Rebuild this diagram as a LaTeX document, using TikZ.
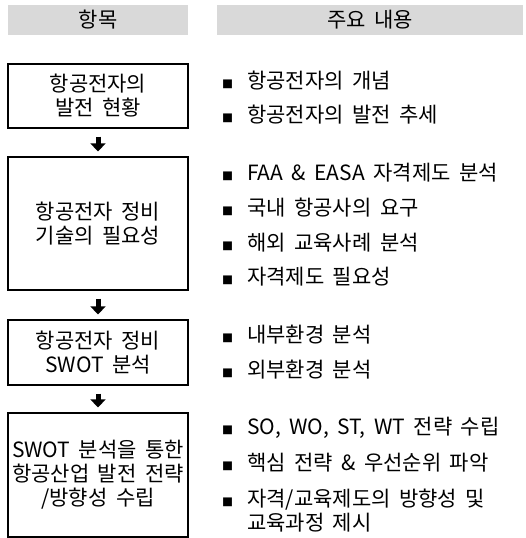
\documentclass[tikz,border=0pt]{standalone}
\usepackage{fontspec}
\setmainfont{Noto Sans CJK KR}[WordSpace=1.8]
\usepackage{xcolor}
\usetikzlibrary{arrows.meta,positioning}
\definecolor{headgray}{HTML}{D9D9D9}
\newcommand{\bul}{\makebox[25pt][l]{\fontsize{11}{11}\selectfont ■}}
\tikzset{
  headbar/.style={fill=headgray, minimum height=30, inner sep=0pt},
  stagebox/.style={draw, line width=1.2pt, minimum width=180, align=center, inner sep=0pt},
  bulletitem/.style={anchor=west, inner sep=0pt, align=left},
  flow/.style={line width=5pt, -{Triangle[width=15pt,length=8pt]}, shorten <=8pt, shorten >=5pt}
}

\begin{document}
\begin{tikzpicture}[x=1pt,y=-1pt,font=\fontsize{21}{24}\selectfont]
\useasboundingbox (0,0) rectangle (525,538);
% Header bars
\node[headbar, minimum width=180] (headitem) at (98,20) {항목};
\node[headbar, minimum width=306] (headbody) at (370,20) {주요 내용};
% Stages
\node[stagebox, minimum height=64] (current) at (98,96) {항공전자의\\발전 현황};
\node[stagebox, minimum height=133] (need) at (98,223.5) {항공전자 정비\\기술의 필요성};
\node[stagebox, minimum height=65] (swot) at (98,352.5) {항공전자 정비\\SWOT 분석};
\node[stagebox, minimum height=124] (strategy) at (98,475) {SWOT 분석을 통한\\항공산업 발전 전략\\/방향성 수립};
% Arrows
\draw[flow] (current.south) -- (need.north);
\draw[flow] (need.south) -- (swot.north);
\draw[flow] (swot.south) -- (strategy.north);
% Items
\node[bulletitem] (cur1) at (222,81) {\bul 항공전자의 개념};
\node[bulletitem] (cur2) at (222,115) {\bul 항공전자의 발전 추세};
\node[bulletitem] (need1) at (222,173) {\bul FAA \& EASA 자격제도 분석};
\node[bulletitem] (need2) at (222,208) {\bul 국내 항공사의 요구};
\node[bulletitem] (need3) at (222,243) {\bul 해외 교육사례 분석};
\node[bulletitem] (need4) at (222,277) {\bul 자격제도 필요성};
\node[bulletitem] (swot1) at (222,335) {\bul 내부환경 분석};
\node[bulletitem] (swot2) at (222,370) {\bul 외부환경 분석};
\node[bulletitem] (str1) at (222,428) {\bul SO, WO, ST, WT 전략 수립};
\node[bulletitem] (str2) at (222,463) {\bul 핵심 전략 \& 우선순위 파악};
\node[bulletitem] (str3) at (222,510.5) {\bul 자격/교육제도의 방향성 및\\\hspace*{25pt}교육과정 제시};
\end{tikzpicture}
\end{document}
